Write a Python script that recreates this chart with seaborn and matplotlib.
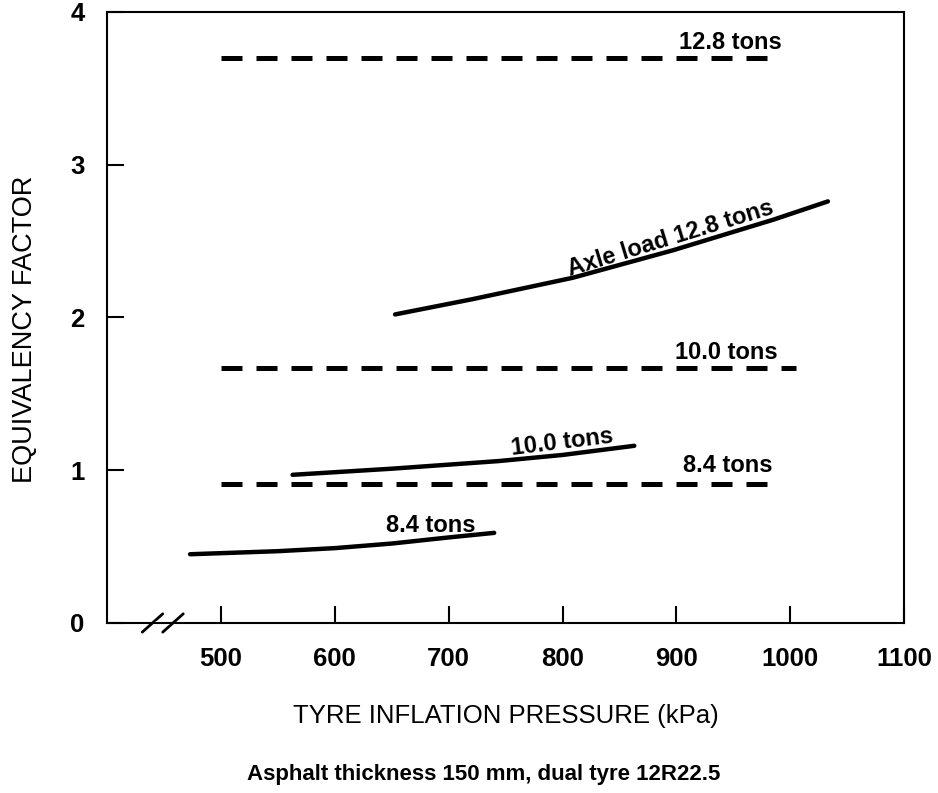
import numpy as np
import pandas as pd
import matplotlib
matplotlib.use("Agg")
import matplotlib.pyplot as plt
import seaborn as sns

sns.set_style("white")
plt.rcParams['font.family'] = ['Liberation Sans', 'DejaVu Sans']
plt.rcParams['text.color'] = 'black'
plt.rcParams['axes.labelcolor'] = 'black'

# solid curves: equivalency factor vs tyre pressure
p_128 = [653, 721, 809, 897, 985, 1033]
ef_128 = [2.02, 2.12, 2.26, 2.44, 2.64, 2.76]
p_100 = [563, 650, 744, 800, 863]
ef_100 = [0.97, 1.01, 1.06, 1.10, 1.16]
p_84 = [473, 550, 600, 650, 700, 740]
ef_84 = [0.45, 0.47, 0.49, 0.52, 0.56, 0.59]

# dashed reference levels
dash_loads = ["12.8 tons", "10.0 tons", "8.4 tons"]
dash_ef = [3.70, 1.67, 0.91]
dash_start = [500, 500, 500]
dash_end = [990, 1005, 987]

solid = pd.concat([
    pd.DataFrame({"p": p_128, "ef": ef_128, "load": "12.8"}),
    pd.DataFrame({"p": p_100, "ef": ef_100, "load": "10.0"}),
    pd.DataFrame({"p": p_84, "ef": ef_84, "load": "8.4"}),
])

fig = plt.figure(figsize=(9.38, 7.93), dpi=100)
ax = fig.add_axes([0.114, 0.2144, 0.85, 0.7705])

sns.lineplot(data=solid, x="p", y="ef", units="load", estimator=None,
             color="black", lw=3.2, ax=ax, legend=False)

for lvl, a, b in zip(dash_ef, dash_start, dash_end):
    d = pd.DataFrame({"p": [a, b], "ef": [lvl, lvl]})
    sns.lineplot(data=d, x="p", y="ef", color="black", lw=3.6,
                 dashes=False, ax=ax, legend=False)
    ax.lines[-1].set_dashes((4.2, 2.8))

ax.set_xlim(400, 1100)
ax.set_ylim(0, 4)
ax.set_xticks([500, 600, 700, 800, 900, 1000, 1100])
ax.set_yticks([0, 1, 2, 3, 4])
ax.tick_params(direction="in", length=12, width=1.5, pad=17,
               labelsize=18.5, colors="black", bottom=True, left=True)
ax.tick_params(axis="y", pad=16)
for t in ax.get_xticklabels() + ax.get_yticklabels():
    t.set_fontweight("bold")
for s in ax.spines.values():
    s.set_color("black")
    s.set_linewidth(1.5)

# axis break on x
for xb in [440, 458]:
    ax.plot([xb - 9, xb + 9], [-0.06, 0.06], color="black", lw=2,
            clip_on=False)
ax.plot([444, 454], [0, 0], color="white", lw=3, clip_on=False)

ax.set_xlabel("TYRE INFLATION PRESSURE (kPa)", fontsize=18.5, labelpad=24)
ax.set_ylabel("EQUIVALENCY FACTOR", fontsize=19.5, labelpad=24)
ax.yaxis.set_label_coords(-0.087, 0.48)

# curve labels
lab = dict(fontsize=17, fontweight="bold", ha="center", va="center")
ax.text(947, 3.80, "12.8 tons", **lab)
ax.text(944, 1.77, "10.0 tons", **lab)
ax.text(945, 1.03, "8.4 tons", **lab)
ax.text(895, 2.52, "Axle load 12.8 tons", rotation=17, **lab)
ax.text(800, 1.18, "10.0 tons", rotation=7, **lab)
ax.text(684, 0.64, "8.4 tons", **lab)

fig.text(0.516, 0.0227, "Asphalt thickness 150 mm, dual tyre 12R22.5",
         fontsize=16, fontweight="bold", ha="center", va="center")

fig.savefig("out.png", dpi=100)
